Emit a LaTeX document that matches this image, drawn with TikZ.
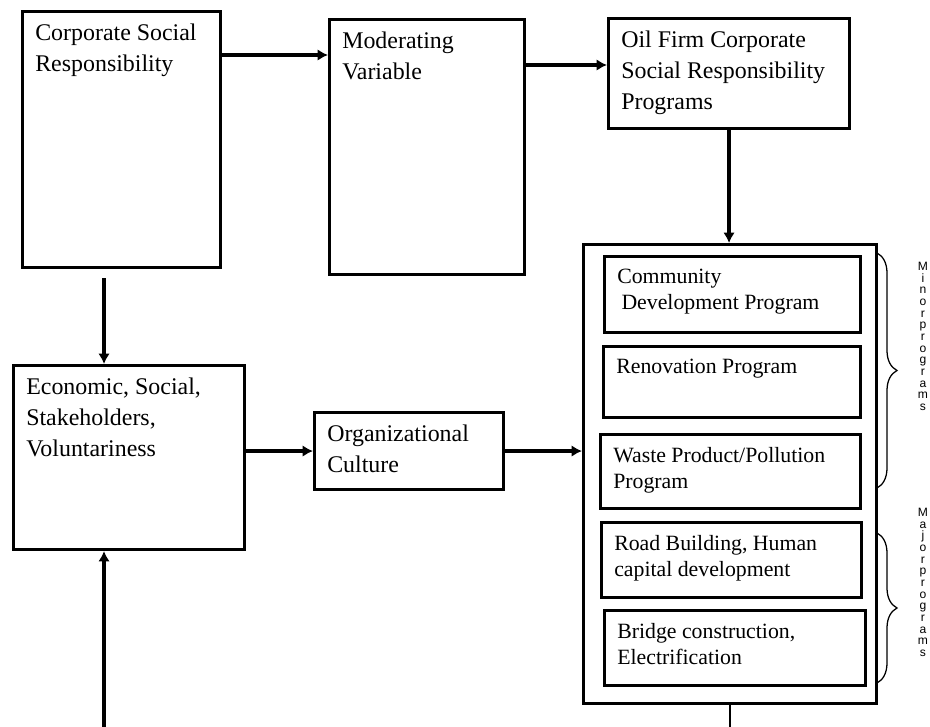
\documentclass[tikz,border=0pt]{standalone}
\usepackage{fontspec}
\setmainfont{Liberation Serif}
\setsansfont{Liberation Sans}
\usetikzlibrary{arrows.meta, positioning, calc, decorations.pathreplacing}

\begin{document}
\begin{tikzpicture}[x=0.025cm, y=-0.025cm, >=Latex,
        box/.style={draw, line width=2.2pt, anchor=north west, inner sep=0pt},
        boxsize/.style 2 args={minimum width=#1*0.025cm, minimum height=#2*0.025cm},
        txt/.style={anchor=north west, align=left, inner sep=0pt, xshift=0.35cm, yshift=-0.35cm,
            font=\fontsize{17}{22}\selectfont},
        prog/.style={txt, font=\fontsize{15.5}{18.5}\selectfont},
        arr/.style={-{Latex[length=2.6mm, width=2.9mm]}, line width=2.3pt},
        brc/.style={decorate, decoration={brace, amplitude=0.5cm}, line width=0.9pt},
        vtxt/.style={anchor=north, align=center, inner sep=0pt,
            font=\sffamily\fontsize{8.6}{8.3}\selectfont}]
        \useasboundingbox (0,0) rectangle (930,727);
        % left column
        \node[box, boxsize={198}{256}, label={[txt]north west:{Corporate Social\\Responsibility}}] (csr) at (21,10) {};
        \node[box, boxsize={231}{184}, label={[txt]north west:{Economic, Social,\\Stakeholders,\\Voluntariness}}] (econ) at (12,364) {};
        % middle column
        \node[box, boxsize={195}{255}, label={[txt]north west:{Moderating\\Variable}}] (mod) at (328,18) {};
        \node[box, boxsize={189}{77}, label={[txt]north west:{Organizational\\Culture}}] (org) at (313,411) {};
        % right column
        \node[box, boxsize={241}{110}, label={[txt]north west:{Oil Firm Corporate\\Social Responsibility\\Programs}}] (oil) at (607,17) {};
        \node[box, boxsize={293}{459}] (big) at (582,243) {};
        \node[box, boxsize={256}{76}, label={[prog]north west:{Community\\\hspace{3pt}Development Program}}] (comm) at (603,255) {};
        \node[box, boxsize={257}{71}, label={[prog]north west:{Renovation Program}}] (ren) at (602,345) {};
        \node[box, boxsize={260}{74}, label={[prog]north west:{Waste Product/Pollution\\Program}}] (waste) at (599,433) {};
        \node[box, boxsize={260}{75}, label={[prog]north west:{Road Building, Human\\capital development}}] (road) at (600,521) {};
        \node[box, boxsize={261}{75}, label={[prog]north west:{Bridge construction,\\Electrification}}] (bridge) at (603,609) {};
        % braces
        \draw[brc] (877,253) -- (877,488);
        \draw[brc] (877,533) -- (877,683);
        \node[vtxt] (minor) at (923,262) {M\\i\\n\\o\\r\\p\\r\\o\\g\\r\\a\\m\\s};
        \node[vtxt] (major) at (923,508) {M\\a\\j\\o\\r\\p\\r\\o\\g\\r\\a\\m\\s};
        % connectors
        \coordinate (a1) at ([yshift=-1.125cm]csr.north east);
        \coordinate (a2) at ([yshift=-1.175cm]mod.north east);
        \coordinate (a3) at ([xshift=2.075cm, yshift=-0.225cm]csr.south west);
        \coordinate (bot) at (0,727);
        \draw[arr] (a1) -- (a1 -| mod.west);
        \draw[arr] (a2) -- (a2 -| oil.west);
        \draw[arr] (oil.south) -- (oil.south |- big.north);
        \draw[arr] (a3) -- (a3 |- econ.north);
        \draw[arr] (econ.east |- org.west) -- (org.west);
        \draw[arr] (org.east) -- (org.east -| big.west);
        \draw[line width=1pt] (big.south) -- (big.south |- bot);
        \draw[arr] (a3 |- bot) -- (a3 |- econ.south);
\end{tikzpicture}
\end{document}
